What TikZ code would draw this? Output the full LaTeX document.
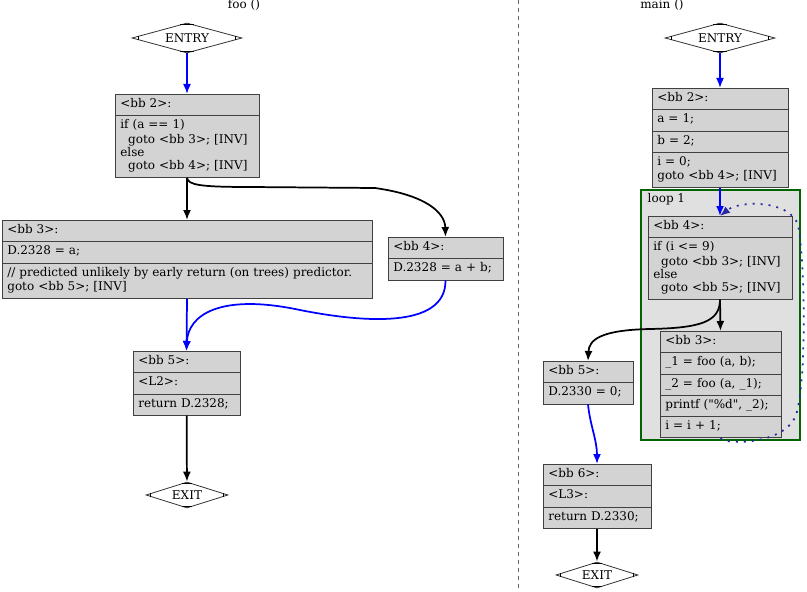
\documentclass[tikz,border=0pt]{standalone}
\usepackage{fontspec}
\setmainfont{DejaVu Serif}
\usetikzlibrary{shapes.multipart, shapes.geometric, arrows.meta, calc}

\definecolor{bbfill}{HTML}{D3D3D3}
\definecolor{loopfill}{HTML}{E0E0E0}
\definecolor{loopgreen}{HTML}{006400}
\definecolor{loopdots}{HTML}{2828A0}
\newcommand{\bbrow}[1]{\strut#1\strut}
\newcommand{\ind}{\hspace*{0.65em}}

\begin{document}
\begin{tikzpicture}[x=0.75pt, y=-0.75pt]
    \tikzstyle{every node} = [font=\fontsize{9}{9.75}\selectfont]
    \tikzstyle{bb} = [rectangle split, draw=black!75, fill=bbfill, line width=0.6pt, align=left, inner xsep=4pt, inner ysep=2.8pt, anchor=north]
    \tikzstyle{term} = [diamond, draw=black!80, fill=white, inner sep=0pt, shape aspect=3.5, line width=0.6pt]
    \tikzstyle{flow} = [-{Latex[length=7.5pt, width=6pt]}, line width=1.3pt]
    \tikzstyle{fall} = [flow, blue]
    \tikzstyle{back} = [flow, draw=loopdots, dash pattern=on 1.5pt off 4.5pt]
    \useasboundingbox (0,0) rectangle (807,592);

    % separator
    \coordinate (septop) at (518,0);
    \coordinate (sepbot) at (518,592);
    \draw [dashed, black!60, line width=0.6pt] (septop) -- (sepbot);

    % foo ()
    \node (footitle) at (244,5) {foo ()};
    \node [term, minimum width=82.5pt, minimum height=22.5pt] (fentry) at (187,38) {ENTRY};
    \node [bb, rectangle split parts=2, text width=100pt] (fbb2) at (187,94)
      {\bbrow{<bb 2>:}
       \nodepart{two}\bbrow{if (a == 1)\\ \ind goto <bb 3>; [INV]\\ else\\ \ind goto <bb 4>; [INV]}};
    \node [bb, rectangle split parts=3, text width=269.5pt] (fbb3) at (187,220)
      {\bbrow{<bb 3>:}
       \nodepart{two}\bbrow{D.2328 = a;}
       \nodepart{three}\bbrow{// predicted unlikely by early return (on trees) predictor.\\ goto <bb 5>; [INV]}};
    \node [bb, rectangle split parts=2, text width=78.25pt] (fbb4) at (445.5,237)
      {\bbrow{<bb 4>:}
       \nodepart{two}\bbrow{D.2328 = a + b;}};
    \node [bb, rectangle split parts=3, text width=72.25pt] (fbb5) at (186.5,351)
      {\bbrow{<bb 5>:}
       \nodepart{two}\bbrow{<L2>:}
       \nodepart{three}\bbrow{return D.2328;}};
    \node [term, minimum width=61.5pt, minimum height=19.5pt] (fexit) at (187,495) {EXIT};

    \draw [fall] (fentry) -- (fbb2);
    \draw [flow] (fbb2.south) -- (fbb3.north);
    \draw [flow] (fbb2.south) .. controls (188,185) and (200,187) .. (250,187)
      -- (375,188) .. controls (425,195) and (445,212) .. (fbb4.north);
    \draw [fall] (fbb3.south) -- (fbb5.north);
    \draw [fall] (fbb4.south) .. controls (446,330) and (360,322) .. (300,310)
      .. controls (220,293) and (188,315) .. (fbb5.north);
    \draw [flow] (fbb5) -- (fexit);

    % main ()
    \node (maintitle) at (662,5) {main ()};
    \node [draw=loopgreen, fill=loopfill, line width=1.2pt, minimum width=119.25pt, minimum height=187.5pt, inner sep=0pt] (loop1) at (720.5,315) {};
    \node [anchor=west] (loop1lbl) at (643,199) {loop 1};
    \node [term, minimum width=82.5pt, minimum height=22.5pt] (mentry) at (720,38) {ENTRY};
    \node [bb, rectangle split parts=4, text width=94pt] (mbb2) at (720,88)
      {\bbrow{<bb 2>:}
       \nodepart{two}\bbrow{a = 1;}
       \nodepart{three}\bbrow{b = 2;}
       \nodepart{four}\bbrow{i = 0;\\ goto <bb 4>; [INV]}};
    \node [bb, rectangle split parts=2, text width=100pt] (mbb4) at (720,216)
      {\bbrow{<bb 4>:}
       \nodepart{two}\bbrow{if (i <= 9)\\ \ind goto <bb 3>; [INV]\\ else\\ \ind goto <bb 5>; [INV]}};
    \node [bb, rectangle split parts=5, text width=82.75pt] (mbb3) at (720.5,331)
      {\bbrow{<bb 3>:}
       \nodepart{two}\bbrow{\_1 = foo (a, b);}
       \nodepart{three}\bbrow{\_2 = foo (a, \_1);}
       \nodepart{four}\bbrow{printf (\textquotedbl\%d\textquotedbl, \_2);}
       \nodepart{five}\bbrow{i = i + 1;}};
    \node [bb, rectangle split parts=2, text width=59.5pt] (mbb5) at (588,361)
      {\bbrow{<bb 5>:}
       \nodepart{two}\bbrow{D.2330 = 0;}};
    \node [bb, rectangle split parts=3, text width=73pt] (mbb6) at (597,464)
      {\bbrow{<bb 6>:}
       \nodepart{two}\bbrow{<L3>:}
       \nodepart{three}\bbrow{return D.2330;}};
    \node [term, minimum width=61.5pt, minimum height=19.5pt] (mexit) at (597,575) {EXIT};

    \draw [fall] (mentry) -- (mbb2);
    \draw [fall] (mbb2.south) -- (mbb4.north);
    \draw [flow] (mbb4.south) -- (mbb3.north);
    \draw [flow] (mbb4.south) .. controls (720,322) and (700,328) .. (650,329)
      .. controls (600,330) and (589,340) .. (mbb5.north);
    \draw [back] (mbb3.south) .. controls (725,445) and (785,445) .. (796,415)
      .. controls (807,380) and (805,260) .. (798,225)
      .. controls (790,200) and (740,200) .. (mbb4.north);
    \draw [fall] (mbb5.south) .. controls (590,425) and (597,440) .. (mbb6.north);
    \draw [flow] (mbb6) -- (mexit);

    % Mdiamond corner marks
    \foreach \d in {fentry, fexit, mentry, mexit} {
      \draw [line width=0.6pt] ($(\d.west)!0.12!(\d.north)$) -- ($(\d.west)!0.12!(\d.south)$);
      \draw [line width=0.6pt] ($(\d.east)!0.12!(\d.north)$) -- ($(\d.east)!0.12!(\d.south)$);
      \draw [line width=0.6pt] ($(\d.north)!0.12!(\d.west)$) -- ($(\d.north)!0.12!(\d.east)$);
      \draw [line width=0.6pt] ($(\d.south)!0.12!(\d.west)$) -- ($(\d.south)!0.12!(\d.east)$);
    }
\end{tikzpicture}
\end{document}
